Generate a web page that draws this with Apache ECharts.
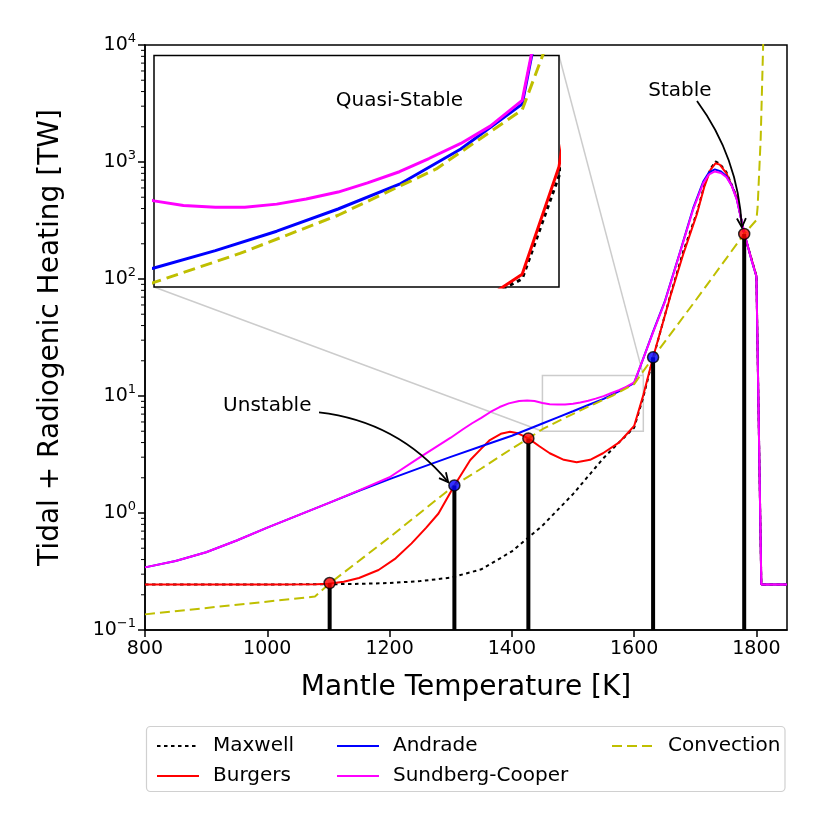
<!DOCTYPE html>
<html lang="en" style="height: 100%">
  <head>
    <meta charset="utf-8" />
  </head>
  <body style="height: 100%; margin: 0; background: #fff">
    <div id="container" style="width: 831px; height: 828px"></div>

    <script src="https://fastly.jsdelivr.net/npm/echarts@6/dist/echarts.min.js"></script>

    <script>
      // values
      var tempMaxwell = [800, 900, 1000, 1100, 1150, 1200, 1250, 1300, 1350, 1400, 1450, 1500, 1550, 1575, 1600,
        1615, 1631, 1659, 1680, 1703, 1715, 1725, 1733, 1740, 1751, 1768, 1780, 1792, 1800, 1808, 1850];
      var heatMaxwell = [0.245, 0.245, 0.245, 0.246, 0.248, 0.252, 0.262, 0.28, 0.33, 0.47, 0.78, 1.45, 2.95, 4.0, 5.35,
        9.8, 21, 72, 170, 375, 640, 880, 1010, 970, 820, 500, 243, 148, 106, 0.245, 0.245];

      var tempBurgers = [800, 1000, 1080, 1100, 1125, 1150, 1182, 1210, 1236, 1260, 1280, 1306, 1332, 1350, 1364, 1382,
        1397, 1410, 1427, 1445, 1462, 1485, 1506, 1528, 1549, 1575, 1590, 1600, 1615, 1631, 1659, 1680, 1703, 1715,
        1725, 1733, 1740, 1751, 1768, 1780, 1792, 1800, 1808, 1850];
      var heatBurgers = [0.245, 0.245, 0.246, 0.248, 0.258, 0.278, 0.326, 0.41, 0.55, 0.75, 0.99, 1.72, 2.84, 3.55, 4.2, 4.75,
        4.95, 4.8, 4.34, 3.72, 3.24, 2.85, 2.72, 2.85, 3.24, 4.0, 4.85, 5.55, 10.2, 21.4, 70.6, 161, 364, 620,
        860, 975, 950, 800, 495, 243, 148, 106, 0.245, 0.245];

      var tempAndrade = [800, 850, 900, 950, 1000, 1050, 1100, 1150, 1200, 1250, 1300, 1350, 1400, 1450, 1475, 1500,
        1525, 1550, 1575, 1600, 1615, 1631, 1650, 1675, 1697, 1713, 1722, 1732, 1742, 1751, 1760, 1768, 1780, 1792,
        1800, 1808, 1850];
      var heatAndrade = [0.343, 0.389, 0.462, 0.582, 0.75, 0.955, 1.216, 1.549, 1.95, 2.43, 3.02, 3.72, 4.57, 5.82, 6.57, 7.41,
        8.37, 9.44, 10.96, 12.9, 21, 35.5, 64, 170, 410, 680, 810, 865, 830, 755, 625, 478, 248, 145,
        105, 0.245, 0.245];

      var tempSundberg = [800, 850, 900, 950, 1000, 1050, 1100, 1150, 1200, 1250, 1300, 1320, 1335, 1350, 1365, 1380,
        1395, 1412, 1425, 1437, 1450, 1462, 1475, 1487, 1500, 1512, 1525, 1537, 1550, 1562, 1575, 1587, 1600,
        1615, 1631, 1650, 1675, 1697, 1713, 1722, 1732, 1742, 1751, 1760, 1768, 1780, 1792, 1800, 1808, 1850];
      var heatSundberg = [0.343, 0.389, 0.462, 0.582, 0.75, 0.955, 1.216, 1.56, 2.02, 3.0, 4.4, 5.2, 5.85, 6.5, 7.3, 8.05,
        8.65, 9.05, 9.15, 9.05, 8.72, 8.52, 8.44, 8.45, 8.58, 8.8, 9.1, 9.5, 9.98, 10.55, 11.2, 11.95, 13.06,
        21, 35, 63, 168, 400, 660, 780, 830, 805, 740, 620, 475, 248, 145, 105, 0.245, 0.245];

      var tempConvection = [800, 1078, 1102, 1200, 1306, 1350, 1400, 1427, 1450, 1485, 1525, 1565, 1600, 1631, 1700,
        1780, 1800, 1802, 1807, 1811, 1813];
      var heatConvection = [0.136, 0.193, 0.25, 0.62, 1.72, 2.4, 3.55, 4.34, 5.2, 6.45, 8.1, 10.1, 12.65, 21.4, 65,
        243, 319, 415, 1600, 10000, 22000];

      var pointTemps = [1102, 1306, 1427, 1631, 1780];
      var pointHeat = [0.252, 1.72, 4.34, 21.4, 243];
      var pointColors = ["#ff0000", "#0000ff", "#ff0000", "#0000ff", "#ff0000"];

      var xTicks = [800, 1000, 1200, 1400, 1600, 1800];
      var insetTemps = [1450, 1615];
      var insetHeat = [5, 15];

      var FONT = "DejaVu Sans";

      function pairs(xs, ys) {
        return xs.map(function (x, i) {
          return [x, ys[i]];
        });
      }

      var curves = [
        { name: "Maxwell", data: pairs(tempMaxwell, heatMaxwell), color: "#000000", dash: [3.5, 3.5], inDash: [4, 4] },
        { name: "Burgers", data: pairs(tempBurgers, heatBurgers), color: "#ff0000", dash: "solid", inDash: "solid" },
        { name: "Andrade", data: pairs(tempAndrade, heatAndrade), color: "#0000ff", dash: "solid", inDash: "solid" },
        { name: "Sundberg-Cooper", data: pairs(tempSundberg, heatSundberg), color: "#ff00ff", dash: "solid", inDash: "solid" },
        { name: "Convection", data: pairs(tempConvection, heatConvection), color: "#bfbf00", dash: [10, 5], inDash: [12, 6] },
      ];

      var series = [];
      curves.forEach(function (c) {
        series.push({
          name: c.name,
          type: "line",
          xAxisIndex: 0,
          yAxisIndex: 0,
          data: c.data,
          symbol: "none",
          z: 3,
          lineStyle: { color: c.color, width: 2, type: c.dash },
          itemStyle: { color: c.color },
        });
      });
      curves.forEach(function (c) {
        series.push({
          name: c.name,
          type: "line",
          xAxisIndex: 1,
          yAxisIndex: 1,
          data: c.data,
          symbol: "none",
          z: 7,
          lineStyle: { color: c.color, width: 3, type: c.inDash },
          itemStyle: { color: c.color },
        });
      });
      // black stems up to each equilibrium point
      pointTemps.forEach(function (t, i) {
        series.push({
          type: "line",
          xAxisIndex: 0,
          yAxisIndex: 0,
          data: [[t, 0.1], [t, pointHeat[i]]],
          symbol: "none",
          z: 4,
          lineStyle: { color: "#000", width: 4 },
        });
      });
      series.push({
        type: "scatter",
        xAxisIndex: 0,
        yAxisIndex: 0,
        z: 5,
        symbolSize: 11,
        data: pointTemps.map(function (t, i) {
          return { value: [t, pointHeat[i]], itemStyle: { color: pointColors[i] } };
        }),
        itemStyle: { borderColor: "#000", borderWidth: 1.5 },
      });

      var legendBase = {
        orient: "vertical",
        top: 731,
        itemWidth: 42,
        itemHeight: 14,
        itemGap: 10,
        selectedMode: false,
        itemStyle: { opacity: 0 },
        textStyle: { fontFamily: FONT, fontSize: 20, color: "#000", lineHeight: 20, padding: [0, 0, 0, 9] },
      };

      var option = {
        animation: false,
        backgroundColor: "#fff",
        textStyle: { fontFamily: FONT },
        grid: [
          { left: 145, right: 44, top: 45, bottom: 198, show: true, borderColor: "#000", borderWidth: 1.5 },
          {
            left: 154, top: 55.5, width: 405, height: 231.5, show: true, z: 5,
            backgroundColor: "#fff", borderColor: "#000", borderWidth: 1.5,
          },
        ],
        xAxis: [
          {
            gridIndex: 0,
            type: "value",
            min: 800,
            max: 1850,
            name: "Mantle Temperature [K]",
            nameLocation: "middle",
            nameGap: 44,
            nameTextStyle: { fontFamily: FONT, fontSize: 28, color: "#000" },
            axisLine: { lineStyle: { color: "#000", width: 1.5 } },
            axisTick: { customValues: xTicks, length: 7, lineStyle: { color: "#000", width: 1.5 } },
            axisLabel: {
              customValues: xTicks,
              fontFamily: FONT,
              fontSize: 19,
              color: "#000",
              margin: 10,
              formatter: function (v) {
                return String(v);
              },
            },
            splitLine: { show: false },
          },
          {
            gridIndex: 1,
            type: "value",
            min: insetTemps[0],
            max: insetTemps[1],
            axisLine: { show: false },
            axisTick: { show: false },
            axisLabel: { show: false },
            splitLine: { show: false },
          },
        ],
        yAxis: [
          {
            gridIndex: 0,
            type: "log",
            logBase: 10,
            min: 0.1,
            max: 10000,
            name: "Tidal + Radiogenic Heating [TW]",
            nameLocation: "middle",
            nameGap: 80,
            nameTextStyle: { fontFamily: FONT, fontSize: 28, color: "#000" },
            axisLine: { show: true, lineStyle: { color: "#000", width: 1.5 } },
            axisTick: { length: 7, lineStyle: { color: "#000", width: 1.5 } },
            axisLabel: {
              margin: 9,
              color: "#000",
              formatter: function (v) {
                var e = Math.round(Math.log10(v));
                return "{base|10}{sup|" + (e < 0 ? "\u2212" + -e : e) + "}";
              },
              rich: {
                base: { fontFamily: FONT, fontSize: 19, color: "#000", lineHeight: 26 },
                sup: { fontFamily: FONT, fontSize: 13, color: "#000", verticalAlign: "top", lineHeight: 14 },
              },
            },
            splitLine: { show: false },
          },
          {
            gridIndex: 1,
            type: "value",
            min: insetHeat[0],
            max: insetHeat[1],
            axisLine: { show: false },
            axisTick: { show: false },
            axisLabel: { show: false },
            splitLine: { show: false },
          },
        ],
        legend: [
          Object.assign({}, legendBase, { left: 151, data: ["Maxwell", "Burgers"] }),
          Object.assign({}, legendBase, { left: 331, data: ["Andrade", "Sundberg-Cooper"] }),
          Object.assign({}, legendBase, { left: 606, data: ["Convection"] }),
        ],
        series: series,
      };

      var chart = echarts.init(document.getElementById("container"), null, { renderer: "canvas" });
      chart.setOption(option);

      function px(point, grid) {
        return chart.convertToPixel({ gridIndex: grid }, point);
      }

      function arrow(from, to, rad, shrink) {
        var a = px(from, 0);
        var t = px(to, 0);
        var ux = t[0] - a[0], uy = t[1] - a[1];
        var len = Math.hypot(ux, uy);
        var b = [t[0] - (ux / len) * shrink, t[1] - (uy / len) * shrink];
        var dx = b[0] - a[0], dy = b[1] - a[1];
        var c = [(a[0] + b[0]) / 2 - rad * dy, (a[1] + b[1]) / 2 + rad * dx];
        var hx = b[0] - c[0], hy = b[1] - c[1];
        var hl = Math.hypot(hx, hy);
        hx /= hl;
        hy /= hl;
        var L = 9, W = 4.5;
        var st = { fill: "none", stroke: "#000", lineWidth: 1.8 };
        return [
          { type: "bezierCurve", z: 20, shape: { x1: a[0], y1: a[1], x2: b[0], y2: b[1], cpx1: c[0], cpy1: c[1] }, style: st },
          {
            type: "polyline",
            z: 20,
            shape: {
              points: [
                [b[0] - L * hx - W * hy, b[1] - L * hy + W * hx],
                [b[0], b[1]],
                [b[0] - L * hx + W * hy, b[1] - L * hy - W * hx],
              ],
            },
            style: st,
          },
        ];
      }

      function label(text, point, grid) {
        var p = px(point, grid);
        return {
          type: "text",
          z: 20,
          x: p[0],
          y: p[1],
          style: { text: text, fontFamily: FONT, fontSize: 20, fill: "#000", align: "center", verticalAlign: "middle" },
        };
      }

      var g = [];
      // zoomed region marker and connectors
      var rTL = px([insetTemps[0], insetHeat[1]], 0);
      var rBR = px([insetTemps[1], insetHeat[0]], 0);
      var grey = { fill: "none", stroke: "#cccccc", lineWidth: 1.5 };
      g.push({ type: "rect", z: 1, shape: { x: rTL[0], y: rTL[1], width: rBR[0] - rTL[0], height: rBR[1] - rTL[1] }, style: grey });
      var iTR = px([insetTemps[1], insetHeat[1]], 1);
      var iBL = px([insetTemps[0], insetHeat[0]], 1);
      g.push({ type: "line", z: 1, shape: { x1: iTR[0], y1: iTR[1], x2: rBR[0], y2: rTL[1] }, style: grey });
      g.push({ type: "line", z: 1, shape: { x1: iBL[0], y1: iBL[1], x2: rTL[0], y2: rBR[1] }, style: grey });

      // minor ticks on the log axis
      for (var k = -1; k < 4; k++) {
        for (var m = 2; m < 10; m++) {
          var yy = chart.convertToPixel({ yAxisIndex: 0 }, m * Math.pow(10, k));
          g.push({ type: "line", z: 10, shape: { x1: 141, y1: yy, x2: 145, y2: yy }, style: { stroke: "#000", lineWidth: 1 } });
        }
      }

      g.push(label("Unstable", [1000, 8.2], 0));
      g.push(label("Stable", [1675, 4050], 0));
      g.push(label("Quasi-Stable", [1550, 13.05], 1));
      g = g.concat(arrow([1084.6, 7.23], [pointTemps[1], pointHeat[1]], -0.2, 7));
      g = g.concat(arrow([1702.8, 3320], [pointTemps[4], pointHeat[4]], -0.15, 7));

      // legend frame
      g.push({
        type: "rect",
        z: 0,
        shape: { x: 146.5, y: 726.5, width: 638.5, height: 65, r: 4 },
        style: { fill: "#fff", stroke: "#d0d0d0", lineWidth: 1.2 },
      });

      chart.setOption({ graphic: g });
    </script>
  </body>
</html>
